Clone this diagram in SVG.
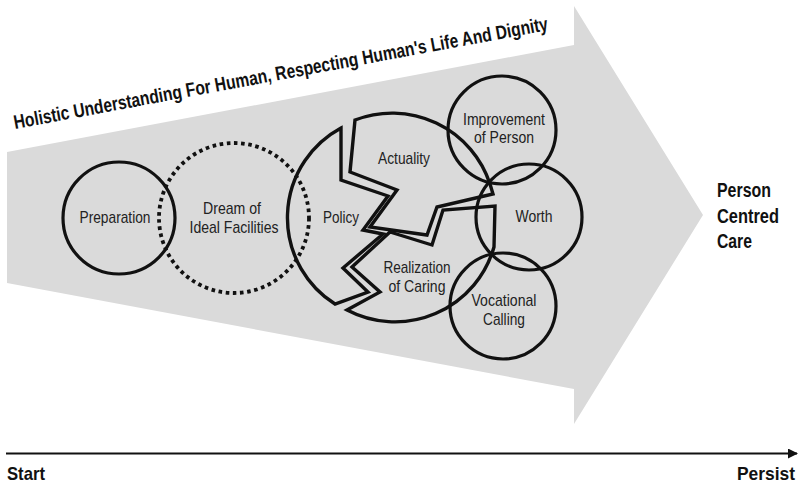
<svg xmlns="http://www.w3.org/2000/svg" width="800" height="484" viewBox="0 0 800 484">
<style>
.lbl{font-family:"Liberation Sans",Arial,sans-serif;font-size:17px;fill:#222;text-anchor:middle}
.bold{font-family:"Liberation Sans",Arial,sans-serif;font-weight:bold;fill:#111}
.ring{fill:none;stroke:#111;stroke-width:3.2}
.piece{fill:none;stroke:#111;stroke-width:3.4;stroke-linejoin:miter}
</style>
<defs>
<marker id="ah" viewBox="0 0 10 10" refX="9" refY="5" markerWidth="5" markerHeight="5" orient="auto" markerUnits="strokeWidth">
<path d="M0,0 L10,5 L0,10 Z" fill="#111"/>
</marker>
</defs>
<rect width="800" height="484" fill="#fff"/>
<polygon id="band" points="7,152 574,45 574,6 703,215 574,424 574,389 7,283" fill="#dadada"/>
<text class="bold" font-size="19.5" transform="translate(15,129) rotate(-10.5)" textLength="543" lengthAdjust="spacingAndGlyphs">Holistic Understanding For Human, Respecting Human's Life And Dignity</text>

<g id="connectors">
<line x1="6" y1="453.5" x2="797" y2="453.5" stroke="#111" stroke-width="2" marker-end="url(#ah)"/>
</g>

<g id="preparation">
<circle class="ring" cx="119" cy="218" r="56"/>
<text class="lbl" x="115" y="223" textLength="71" lengthAdjust="spacingAndGlyphs">Preparation</text>
</g>
<g id="dream">
<circle cx="234" cy="218" r="75" fill="none" stroke="#111" stroke-width="3.8" stroke-dasharray="3.6 3.6"/>
<text class="lbl" x="232" y="214" textLength="58" lengthAdjust="spacingAndGlyphs">Dream of</text>
<text class="lbl" x="234" y="233" textLength="89" lengthAdjust="spacingAndGlyphs">Ideal Facilities</text>
</g>
<g id="policy">
<path class="piece" d="M341,128 L341,180 L388,196 L363,230 L383,234 L343,268 L368,292 L335,304 A102,102 0 0 1 341,128 Z"/>
<text class="lbl" x="341" y="223" textLength="36" lengthAdjust="spacingAndGlyphs">Policy</text>
</g>
<g id="actuality">
<path class="piece" d="M355,120 A103,103 0 0 1 490,184 L493,194 L480,197 L437,207 L427,235 L370,227 L397,190 L350,172 Z"/>
<text class="lbl" x="404" y="164" textLength="52" lengthAdjust="spacingAndGlyphs">Actuality</text>
</g>
<g id="realization">
<path class="piece" d="M390,232 L432,245 L443,210 L495,206 L494,247 A103,103 0 0 1 347,310 L380,292 L352,267 Z"/>
<text class="lbl" x="417" y="273" textLength="67" lengthAdjust="spacingAndGlyphs">Realization</text>
<text class="lbl" x="417" y="292" textLength="57" lengthAdjust="spacingAndGlyphs">of Caring</text>
</g>
<g id="improvement">
<circle class="ring" cx="502" cy="130" r="54"/>
<text class="lbl" x="504" y="125" textLength="82" lengthAdjust="spacingAndGlyphs">Improvement</text>
<text class="lbl" x="504" y="143" textLength="60" lengthAdjust="spacingAndGlyphs">of Person</text>
</g>
<g id="worth">
<circle class="ring" cx="529" cy="217" r="53"/>
<text class="lbl" x="534" y="222" textLength="37" lengthAdjust="spacingAndGlyphs">Worth</text>
</g>
<g id="vocational">
<circle class="ring" cx="503" cy="306" r="53"/>
<text class="lbl" x="504" y="306" textLength="65" lengthAdjust="spacingAndGlyphs">Vocational</text>
<text class="lbl" x="504" y="325" textLength="42" lengthAdjust="spacingAndGlyphs">Calling</text>
</g>
<g id="pcc">
<text class="bold" font-size="19.5" x="717" y="197" textLength="54" lengthAdjust="spacingAndGlyphs">Person</text>
<text class="bold" font-size="19.5" x="717" y="223" textLength="62" lengthAdjust="spacingAndGlyphs">Centred</text>
<text class="bold" font-size="19.5" x="717" y="248" textLength="35" lengthAdjust="spacingAndGlyphs">Care</text>
</g>
<g id="start">
<text class="bold" font-size="19" x="7" y="480" textLength="38" lengthAdjust="spacingAndGlyphs">Start</text>
</g>
<g id="persist">
<text class="bold" font-size="19" x="737" y="480" textLength="58" lengthAdjust="spacingAndGlyphs">Persist</text>
</g>
</svg>
